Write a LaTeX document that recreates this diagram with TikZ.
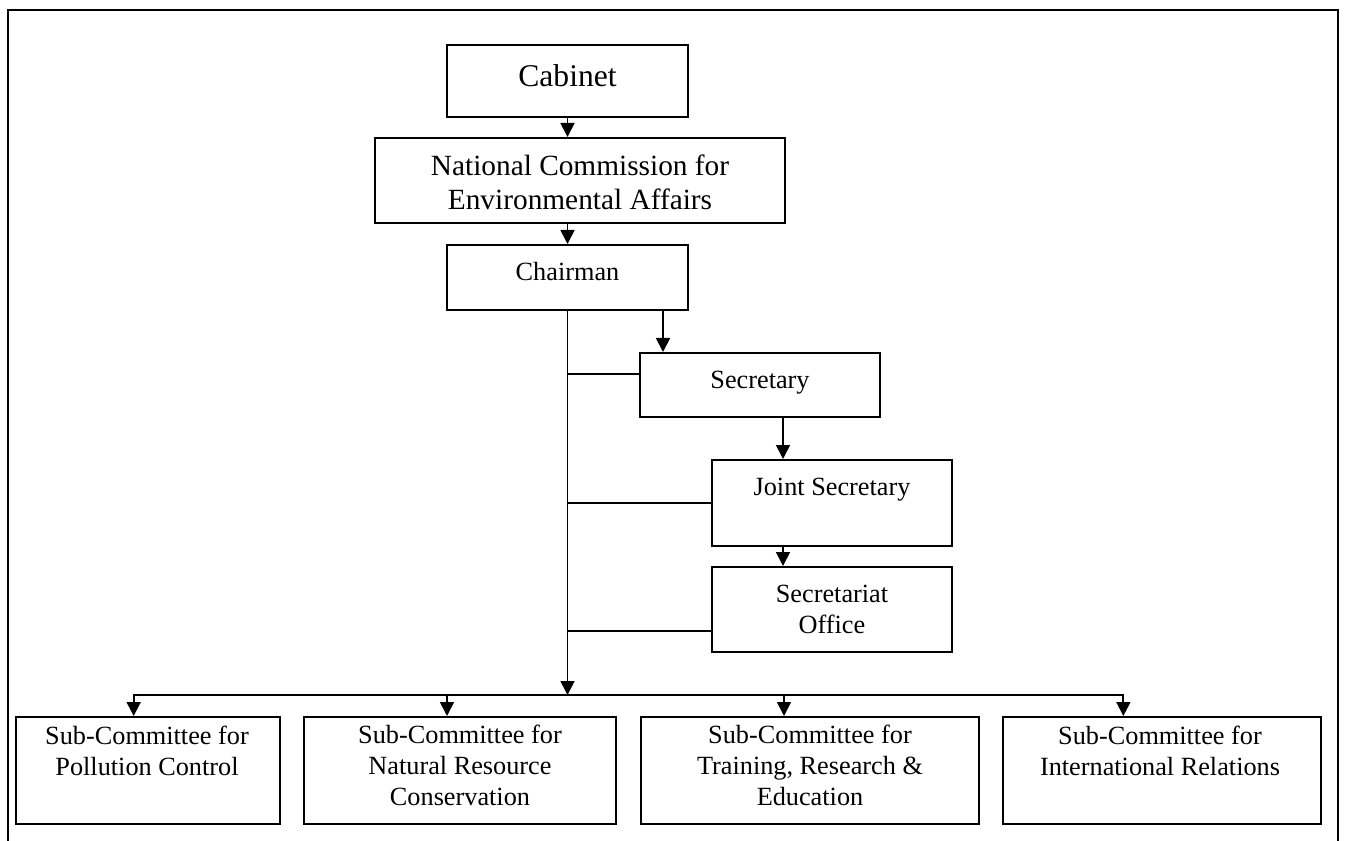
\documentclass[tikz,border=0pt]{standalone}
\usepackage{fontspec}
\setmainfont{Liberation Serif}
\usetikzlibrary{arrows.meta,fit}
\begin{document}
\begin{tikzpicture}[x=0.75pt,y=-0.75pt,
  box/.style={draw, line width=1.5pt, inner sep=0pt, rectangle},
  lbl/.style={anchor=base, inner sep=0pt, align=center, font=\fontsize{19.7}{23}\selectfont},
  conn/.style={line width=1.3pt},
  arr/.style={conn, -{Triangle[length=10.5pt,width=10.5pt]}}
]
\useasboundingbox (0,0) rectangle (1345,841);
\draw[line width=1.8pt] (8,841) -- (8,10) -- (1338,10) -- (1338,841);

% boxes
\node[box, fit={(447,45) (688,117)}] (cab) {};
\node[box, fit={(375,138) (785,223)}] (ncea) {};
\node[box, fit={(447,245) (688,310)}] (chair) {};
\node[box, fit={(640,353) (880,417)}] (sec) {};
\node[box, fit={(712,460) (952,546)}] (js) {};
\node[box, fit={(712,567) (952,652)}] (so) {};
\node[box, fit={(16,717) (280,824)}] (s1) {};
\node[box, fit={(304,717) (616,824)}] (s2) {};
\node[box, fit={(641,717) (979,824)}] (s3) {};
\node[box, fit={(1003,717) (1321,824)}] (s4) {};

% texts (anchor = baseline of the last line)
\node[lbl, font=\fontsize{23.7}{28}\selectfont] (tcab) at (567.5,87) {Cabinet};
\node[lbl, font=\fontsize{22}{25.5}\selectfont] (tncea) at (580,210) {National Commission for\\Environmental Affairs};
\node[lbl] (tchair) at (567.5,281) {Chairman};
\node[lbl] (tsec) at (760,388) {Secretary};
\node[lbl] (tjs) at (832,495) {Joint Secretary};
\node[lbl, font=\fontsize{19.7}{23.25}\selectfont] (tso) at (832,633) {Secretariat\\Office};
\node[lbl] (ts1) at (147,775) {Sub-Committee for\\Pollution Control};
\node[lbl] (ts2) at (460,805) {Sub-Committee for\\Natural Resource\\Conservation};
\node[lbl] (ts3) at (810,805) {Sub-Committee for\\Training, Research \&\\Education};
\node[lbl] (ts4) at (1160,775) {Sub-Committee for\\International Relations};

% connectors
\draw[arr] (cab.south) -- (cab.south |- ncea.north);
\draw[arr] (chair.north |- ncea.south) -- (chair.north);
\coordinate (a1) at ([xshift=18pt]sec.north west);
\draw[arr] (a1 |- chair.south) -- (a1);
\coordinate (a2) at ([xshift=54pt]js.north west);
\draw[arr] (a2 |- sec.south) -- (a2);
\draw[arr] (a2 |- js.south) -- (a2 |- so.north);

\coordinate (bus) at (chair.south |- 0,695);
\draw[arr] (chair.south) -- (bus);
\coordinate (c1) at ([yshift=8pt]sec.west);
\coordinate (c3) at ([yshift=-16pt]so.west);
\draw[conn] (chair.south |- c1) -- (c1);
\draw[conn] (chair.south |- js.west) -- (js.west);
\draw[conn] (chair.south |- c3) -- (c3);

\coordinate (b1) at ([xshift=89pt]s1.north west);
\coordinate (b2) at ([xshift=108pt]s2.north west);
\coordinate (b3) at ([xshift=108pt]s3.north west);
\coordinate (b4) at ([xshift=91pt]s4.north west);
\draw[conn, line cap=rect] (b1 |- bus) -- (b4 |- bus);
\draw[arr] (b1 |- bus) -- (b1);
\draw[arr] (b2 |- bus) -- (b2);
\draw[arr] (b3 |- bus) -- (b3);
\draw[arr] (b4 |- bus) -- (b4);
\end{tikzpicture}
\end{document}
